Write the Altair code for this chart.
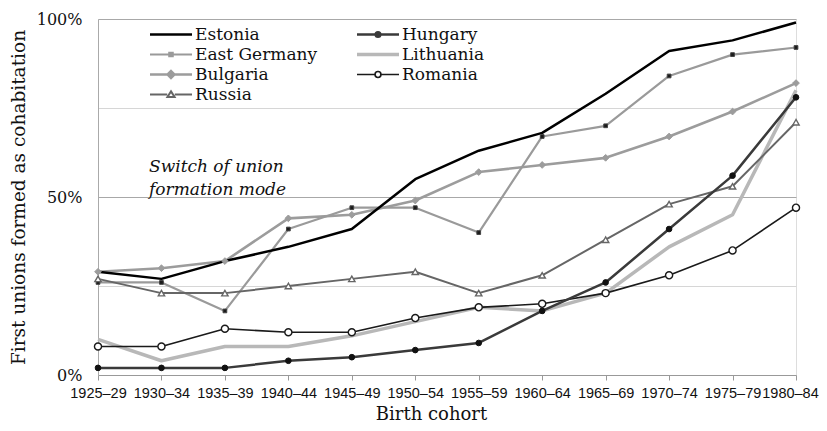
import altair as alt
import pandas as pd

cohorts = ["1925–29", "1930–34", "1935–39", "1940–44", "1945–49", "1950–54",
           "1955–59", "1960–64", "1965–69", "1970–74", "1975–79", "1980–84"]

# values in percent
lithuania   = [10, 4, 8, 8, 11, 15, 19, 18, 23, 36, 45, 80]
bulgaria    = [29, 30, 32, 44, 45, 49, 57, 59, 61, 67, 74, 82]
east_germany = [26, 26, 18, 41, 47, 47, 40, 67, 70, 84, 90, 92]
russia      = [27, 23, 23, 25, 27, 29, 23, 28, 38, 48, 53, 71]
romania     = [8, 8, 13, 12, 12, 16, 19, 20, 23, 28, 35, 47]
hungary     = [2, 2, 2, 4, 5, 7, 9, 18, 26, 41, 56, 78]
estonia     = [29, 27, 32, 36, 41, 55, 63, 68, 79, 91, 94, 99]

# drawing order (bottom to top)
series = {
    "Lithuania": lithuania,
    "Bulgaria": bulgaria,
    "East Germany": east_germany,
    "Russia": russia,
    "Romania": romania,
    "Hungary": hungary,
    "Estonia": estonia,
}
# legend fills column by column
legend_order = ["Estonia", "East Germany", "Bulgaria", "Russia",
                "Hungary", "Lithuania", "Romania"]

line_colors = {"Estonia": "#000000", "Hungary": "#3a3a3a", "East Germany": "#9a9a9a",
               "Lithuania": "#b8b8b8", "Bulgaria": "#9c9c9c", "Romania": "#1a1a1a",
               "Russia": "#666666"}
line_widths = {"Estonia": 2.5, "Hungary": 2.5, "East Germany": 2.2, "Lithuania": 3.5,
               "Bulgaria": 2.6, "Romania": 1.6, "Russia": 2.0}
marker_fill = {"Estonia": "#000000", "Hungary": "#111111", "East Germany": "#1a1a1a",
               "Lithuania": "#b8b8b8", "Bulgaria": "#9c9c9c", "Romania": "#ffffff",
               "Russia": "#ffffff"}
legend_paths = {
    "Estonia": "M-1,0H1",
    "Hungary": "M-1,0H1M0.11,0A0.11,0.11,0,1,1,-0.11,0A0.11,0.11,0,1,1,0.11,0Z",
    "East Germany": "M-1,0H1M-0.08,-0.08H0.08V0.08H-0.08Z",
    "Lithuania": "M-1,0H1",
    "Bulgaria": "M-1,0H1M0,-0.16L0.16,0L0,0.16L-0.16,0Z",
    "Romania": "M-1,0H-0.14M0.14,0H1M0.14,0A0.14,0.14,0,1,1,-0.14,0A0.14,0.14,0,1,1,0.14,0Z",
    "Russia": "M-1,0H-0.18M0.18,0H1M0,-0.15L0.17,0.12L-0.17,0.12Z",
}

rows = []
for name, vals in series.items():
    for c, v in zip(cohorts, vals):
        rows.append({"cohort": c, "country": name, "value": v / 100})
df = pd.DataFrame(rows)

ann = pd.DataFrame({"cohort": [cohorts[0]], "value": [0.584],
                    "text": [["Switch of union", "formation mode"]]})

serif = "DejaVu Serif"

x_enc = alt.X("cohort:O", sort=cohorts,
              scale=alt.Scale(domain=cohorts, padding=0),
              axis=alt.Axis(title="Birth cohort", labelAngle=0,
                            labelFont="Liberation Sans", labelFontSize=14.5,
                            labelColor="#111", labelPadding=6,
                            labelOffset={"condition": {"test": "datum.value == '1980–84'",
                                                       "value": -6},
                                         "value": 0},
                            tickColor="#999", tickSize=5, domainColor="#999",
                            titleFont=serif, titleFontSize=18, titleFontWeight="normal",
                            titleColor="#111", titlePadding=6, titleX=333))
y_enc = alt.Y("value:Q", scale=alt.Scale(domain=[0, 1], nice=False),
              axis=alt.Axis(title="First unions formed as cohabitation",
                            values=[0, 0.25, 0.5, 0.75, 1], format="%",
                            labelExpr="datum.value == 0.25 || datum.value == 0.75 ? '' : datum.label",
                            ticks=False, labelPadding=16, labelFont=serif, labelFontSize=16,
                            labelColor="#111", domainColor="#aaa",
                            gridColor={"condition": {"test": "datum.value == 0.5 || datum.value == 1",
                                                     "value": "#a8a8a8"},
                                       "value": "#d6d6d6"},
                            titleFont=serif, titleFontSize=18.5, titleFontWeight="normal",
                            titleColor="#111", titlePadding=8))

leg = alt.Legend(title=None, orient="none", legendX=50, legendY=7, columns=2,
                 columnPadding=37, rowPadding=2, padding=0, labelFont=serif,
                 labelFontSize=17, labelColor="#111", labelOffset=1, labelLimit=0,
                 symbolSize=1764, clipHeight=17, symbolOpacity=1)

lines = alt.Chart(df).mark_line(strokeJoin="round").encode(
    x=x_enc, y=y_enc,
    color=alt.Color("country:N",
                    scale=alt.Scale(domain=legend_order,
                                    range=[line_colors[k] for k in legend_order]),
                    legend=leg),
    strokeWidth=alt.StrokeWidth("country:N",
                                scale=alt.Scale(type="ordinal", domain=legend_order,
                                                range=[line_widths[k] for k in legend_order]),
                                legend=leg),
)

legend_layer = alt.Chart(df).transform_filter("datum.value < 0").mark_point(
    filled=True, opacity=1).encode(
    x=x_enc, y=y_enc,
    shape=alt.Shape("country:N",
                    scale=alt.Scale(domain=legend_order,
                                    range=[legend_paths[k] for k in legend_order]),
                    legend=leg),
    fill=alt.Fill("country:N",
                  scale=alt.Scale(domain=legend_order,
                                  range=[marker_fill[k] for k in legend_order]),
                  legend=leg),
)

def markers(name, shape, size, fill, stroke, sw):
    return alt.Chart(df).transform_filter(alt.datum.country == name).mark_point(
        shape=shape, size=size, filled=True, fill=fill, stroke=stroke, strokeWidth=sw,
        opacity=1).encode(x=x_enc, y=y_enc)

pts = [
    markers("Bulgaria", "diamond", 45, "#9c9c9c", "#9c9c9c", 1),
    markers("East Germany", "square", 14, "#1a1a1a", "#444", 1),
    markers("Russia", "triangle-up", 40, "#ffffff", "#666666", 1.4),
    markers("Romania", "circle", 50, "#ffffff", "#1a1a1a", 1.4),
    markers("Hungary", "circle", 32, "#111111", "#111111", 1),
]

text = alt.Chart(ann).mark_text(align="left", baseline="middle", dx=51, font=serif,
                                fontSize=17, fontStyle="italic", color="#111",
                                lineHeight=23).encode(
    x=alt.X("cohort:O", sort=cohorts), y="value:Q", text="text")

chart = alt.layer(lines, *pts, legend_layer, text).properties(
    width=698, height=356,
    padding={"left": 90, "top": 11, "right": 23, "bottom": 48},
    autosize=alt.AutoSizeParams(type="none"),
).configure_view(stroke="#aaa").configure(background="white")

chart.save("out.html", embed_options={"renderer": "svg", "actions": False})
